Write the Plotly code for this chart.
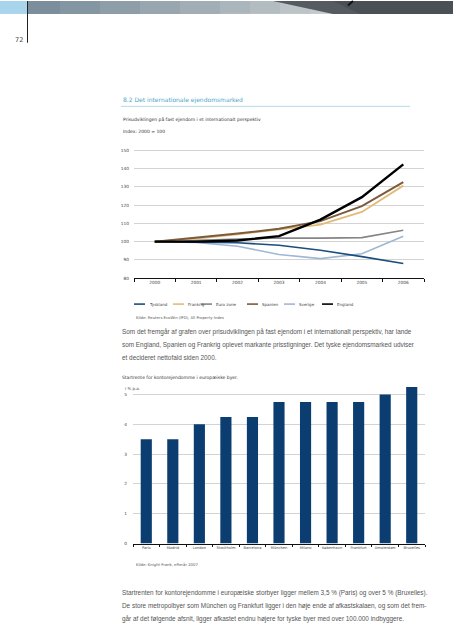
import plotly.graph_objects as go

W, H = 453, 640

# ---------------- data ----------------
years = ["2000", "2001", "2002", "2003", "2004", "2005", "2006"]
tyskland = [100, 99.8, 99.4, 98.0, 95.3, 91.8, 88.1]
frankrig = [100, 101.6, 104.0, 106.5, 109.3, 116.2, 130.6]
eurozone = [100, 100.7, 101.5, 102.0, 101.9, 102.2, 106.2]
spanien = [100, 102.0, 104.4, 107.0, 111.2, 119.4, 132.5]
sverige = [100, 99.5, 97.5, 93.0, 90.7, 93.4, 103.0]
england = [100, 100.0, 100.6, 103.0, 112.0, 124.3, 142.2]
y1_ticks = [80, 90, 100, 110, 120, 130, 140, 150]

cities = ["Paris", "Madrid", "London", "Stockholm", "Barcelona", "München",
          "Milano", "København", "Frankfurt", "Amsterdam", "Bruxelles"]
startrente = [3.5, 3.5, 4.0, 4.25, 4.25, 4.75, 4.75, 4.75, 4.75, 5.0, 5.25]
y2_ticks = [0, 1, 2, 3, 4, 5]

series = [
    ("Sverige", sverige, "#a0b7d4", 1.6),
    ("Tyskland", tyskland, "#1b4d7e", 1.6),
    ("Euro zone", eurozone, "#858585", 1.6),
    ("Frankrig", frankrig, "#e2bb78", 1.8),
    ("Spanien", spanien, "#7b5b3b", 2.0),
    ("England", england, "#000000", 2.4),
]
legend_order = ["Tyskland", "Frankrig", "Euro zone", "Spanien", "Sverige", "England"]


def X(px):
    return px / W


def Y(py):
    return 1 - py / H


fig = go.Figure()
for name, vals, col, lw in series:
    fig.add_trace(go.Scatter(x=years, y=vals, mode="lines", name=name,
                             line=dict(color=col, width=lw),
                             xaxis="x", yaxis="y", showlegend=False))

fig.add_trace(go.Bar(x=cities, y=startrente, marker=dict(color="#0c3d70", line=dict(width=0)),
                     xaxis="x2", yaxis="y2", showlegend=False))

tickfont = dict(family="DejaVu Sans", size=4.3, color="#444")

fig.update_layout(
    width=W, height=H, autosize=False,
    margin=dict(l=0, r=0, t=0, b=0),
    paper_bgcolor="white", plot_bgcolor="white",
    bargap=0.58,
    xaxis=dict(domain=[X(134), X(424)], anchor="y", type="category", range=[-0.5, 6.5],
               showgrid=False, showline=True, linecolor="#111", linewidth=1,
               ticks="outside", tickson="boundaries", ticklen=3, tickcolor="#111",
               tickfont=tickfont, tickangle=0),
    yaxis=dict(domain=[Y(279), Y(148.2)], anchor="x", range=[80, 151],
               tickvals=y1_ticks, showgrid=True, gridcolor="#d3d3d3", gridwidth=1,
               zeroline=False, showline=False, ticks="", tickfont=tickfont,
               ticklabelstandoff=4),
    xaxis2=dict(domain=[X(133), X(425)], anchor="y2", type="category",
                showgrid=False, showline=True, linecolor="#111", linewidth=1,
                ticks="outside", tickson="boundaries", ticklen=2, tickcolor="#111",
                tickangle=0,
                tickfont=dict(family="DejaVu Sans", size=3.6, color="#444")),
    yaxis2=dict(domain=[Y(546), Y(385.5)], anchor="x2", range=[0, 5.35],
                tickvals=y2_ticks, showgrid=True, gridcolor="#d3d3d3", gridwidth=1,
                zeroline=False, showline=False, ticks="", tickfont=tickfont,
                ticklabelstandoff=5),
)

shapes = []
# header strip
shapes.append(dict(type="rect", xref="paper", yref="paper", x0=X(0), x1=X(27.5),
                   y0=Y(13), y1=Y(0), fillcolor="#a8d5eb", line=dict(width=0), layer="below"))
grad = [(27, "#7c8e9b"), (60, "#8496a2"), (100, "#8e9ea8"), (140, "#98a6af"),
        (180, "#a1aeb6"), (220, "#aab5bc"), (250, "#b2bcc1"), (280, "#bcc4c8"),
        (310, "#c3c9cc"), (340, "#c3c9cc")]
for i in range(len(grad) - 1):
    shapes.append(dict(type="rect", xref="paper", yref="paper", x0=X(grad[i][0]),
                       x1=X(grad[i + 1][0] + 0.5), y0=Y(13), y1=Y(0),
                       fillcolor=grad[i][1], line=dict(width=0), layer="below"))
shapes.append(dict(type="path", xref="paper", yref="paper",
                   path=f"M {X(273)} {Y(0)} L {X(453)} {Y(0)} L {X(453)} {Y(13)} L {X(333)} {Y(13)} Z",
                   fillcolor="#555b60", line=dict(width=0), layer="below"))
shapes.append(dict(type="path", xref="paper", yref="paper",
                   path=f"M {X(333)} {Y(0)} L {X(453)} {Y(0)} L {X(453)} {Y(13)} L {X(360)} {Y(13)} Z",
                   fillcolor="#4a5055", line=dict(width=0), layer="below"))
shapes.append(dict(type="line", xref="paper", yref="paper", x0=X(353), x1=X(348),
                   y0=Y(0), y1=Y(4.5), line=dict(color="#111", width=2)))
# vertical page line
shapes.append(dict(type="line", xref="paper", yref="paper", x0=X(27.5), x1=X(27.5),
                   y0=Y(0), y1=Y(42), line=dict(color="#222", width=1)))
# heading underline
shapes.append(dict(type="line", xref="paper", yref="paper", x0=X(121), x1=X(410),
                   y0=Y(106), y1=Y(106), line=dict(color="#9fcfe0", width=0.8)))

annotations = []


def txt(x, y, s, size, color="#333", family="DejaVu Sans", anchor="left"):
    annotations.append(dict(x=X(x), y=Y(y), xref="paper", yref="paper", text=s,
                            showarrow=False, xanchor=anchor, yanchor="middle",
                            font=dict(family=family, size=size, color=color)))


# legend (manual, compact)
leg_x = {"Tyskland": 134, "Frankrig": 173, "Euro zone": 201,
         "Spanien": 247, "Sverige": 284, "England": 322}
col_of = {s[0]: s[2] for s in series}
for name in legend_order:
    x0 = leg_x[name]
    shapes.append(dict(type="line", xref="paper", yref="paper", x0=X(x0), x1=X(x0 + 11),
                       y0=Y(305), y1=Y(305), line=dict(color=col_of[name], width=1.6)))
    txt(x0 + 13, 305, name, 4.0, "#444")

txt(13, 39, "72", 6.5, "#444")
txt(121, 100, "8.2 Det internationale ejendomsmarked", 6.0, "#4ea6c6")
txt(121, 119.3, "Prisudviklingen på fast ejendom i et internationalt perspektiv", 4.5, "#333")
txt(121, 131.7, "Index: 2000 = 100", 4.5, "#333")
txt(134, 318, "Kilde: Reuters EcoWin (IPD), All Property Index", 3.8, "#555")

body = "Liberation Sans"
bs = 6.4
txt(120, 333, "Som det fremgår af grafen over prisudviklingen på fast ejendom i et internationalt perspektiv, har lande", bs, "#555", body)
txt(120, 346, "som England, Spanien og Frankrig oplevet markante prisstigninger. Det tyske ejendomsmarked udviser", bs, "#555", body)
txt(120, 359, "et decideret nettofald siden 2000.", bs, "#555", body)

txt(120, 378.5, "Startrente for kontorejendomme i europæiske byer.", 4.5, "#333")
txt(123, 390, "i % p.a.", 4.0, "#444")
txt(134, 567, "Kilde: Knight Frank, efterår 2007", 3.8, "#555")

txt(120, 596, "Startrenten for kontorejendomme i europæiske storbyer ligger mellem 3,5 % (Paris) og over 5 % (Bruxelles).", bs, "#555", body)
txt(120, 609, "De store metropolbyer som München og Frankfurt ligger i den høje ende af afkastskalaen, og som det frem-", bs, "#555", body)
txt(120, 622, "går af det følgende afsnit, ligger afkastet endnu højere for tyske byer med over 100.000 indbyggere.", bs, "#555", body)

fig.update_layout(shapes=shapes, annotations=annotations)

fig.write_html("out.html", config={"displayModeBar": False, "staticPlot": True},
               post_script="document.body.style.margin='0';document.body.style.padding='0';")
